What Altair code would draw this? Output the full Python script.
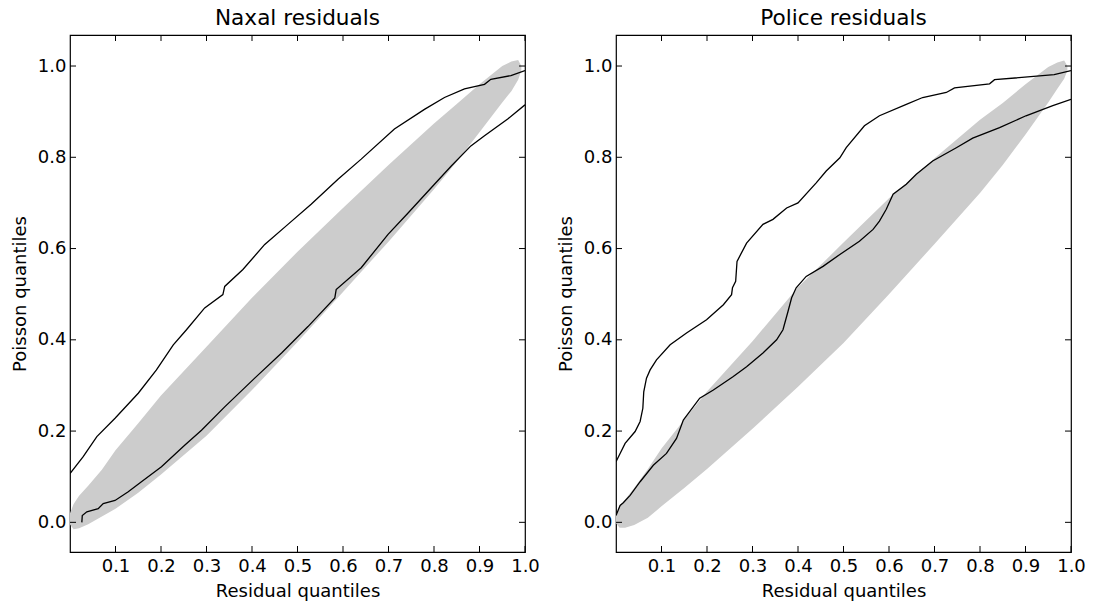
import altair as alt
import pandas as pd

# ---------------- data ----------------
x_ticks = [0.1, 0.2, 0.3, 0.4, 0.5, 0.6, 0.7, 0.8, 0.9, 1.0]
y_ticks = [0.0, 0.2, 0.4, 0.6, 0.8, 1.0]

# Naxal panel: simulation envelope (grey band)
naxal_band_x = [0.0, 0.008, 0.02, 0.04, 0.07, 0.1, 0.15, 0.2, 0.3, 0.4, 0.5, 0.6, 0.7, 0.8, 0.85, 0.9, 0.95, 0.97, 0.985, 0.992]
naxal_band_lo = [-0.005, -0.015, -0.013, -0.004, 0.013, 0.03, 0.065, 0.105, 0.19, 0.29, 0.395, 0.505, 0.615, 0.73, 0.79, 0.855, 0.92, 0.945, 0.97, 0.99]
naxal_band_hi = [0.02, 0.04, 0.058, 0.08, 0.115, 0.158, 0.217, 0.278, 0.385, 0.492, 0.593, 0.689, 0.783, 0.874, 0.917, 0.96, 1.0, 1.01, 1.013, 1.0]

naxal_upper_x = [0.0, 0.029, 0.059, 0.099, 0.150, 0.190, 0.227, 0.256, 0.296, 0.336, 0.340, 0.380, 0.428, 0.479, 0.530, 0.589, 0.640, 0.713, 0.779, 0.823, 0.867, 0.911, 0.925, 0.969, 1.0]
naxal_upper_y = [0.107, 0.144, 0.188, 0.228, 0.283, 0.334, 0.389, 0.422, 0.470, 0.499, 0.517, 0.554, 0.609, 0.653, 0.697, 0.752, 0.796, 0.862, 0.905, 0.931, 0.950, 0.960, 0.971, 0.979, 0.990]

naxal_lower_x = [0.026, 0.027, 0.037, 0.062, 0.073, 0.099, 0.128, 0.157, 0.201, 0.252, 0.289, 0.340, 0.406, 0.465, 0.523, 0.582, 0.585, 0.640, 0.699, 0.743, 0.801, 0.838, 0.881, 0.911, 0.962, 1.0]
naxal_lower_y = [0.0, 0.015, 0.023, 0.030, 0.041, 0.048, 0.067, 0.089, 0.122, 0.169, 0.202, 0.253, 0.316, 0.371, 0.429, 0.492, 0.510, 0.558, 0.631, 0.678, 0.741, 0.781, 0.825, 0.847, 0.884, 0.915]

# Police panel
police_band_x = [0.0, 0.008, 0.02, 0.04, 0.07, 0.1, 0.15, 0.2, 0.3, 0.4, 0.5, 0.6, 0.7, 0.8, 0.85, 0.9, 0.95, 0.97, 0.985, 0.992]
police_band_lo = [-0.002, -0.012, -0.012, -0.006, 0.01, 0.035, 0.075, 0.117, 0.205, 0.297, 0.393, 0.5, 0.61, 0.722, 0.783, 0.85, 0.92, 0.95, 0.972, 0.99]
police_band_hi = [0.015, 0.035, 0.05, 0.075, 0.117, 0.162, 0.225, 0.287, 0.397, 0.515, 0.613, 0.71, 0.798, 0.882, 0.919, 0.96, 0.998, 1.008, 1.012, 1.0]

police_upper_x = [0.0, 0.009, 0.020, 0.042, 0.053, 0.059, 0.061, 0.067, 0.075, 0.089, 0.119, 0.155, 0.199, 0.236, 0.254, 0.256, 0.263, 0.266, 0.287, 0.323, 0.345, 0.375, 0.400, 0.440, 0.462, 0.492, 0.506, 0.546, 0.579, 0.638, 0.674, 0.726, 0.744, 0.821, 0.832, 0.963, 1.0]
police_upper_y = [0.133, 0.151, 0.173, 0.199, 0.221, 0.250, 0.286, 0.316, 0.334, 0.356, 0.389, 0.415, 0.444, 0.477, 0.499, 0.514, 0.528, 0.572, 0.612, 0.653, 0.664, 0.689, 0.700, 0.744, 0.770, 0.799, 0.821, 0.869, 0.891, 0.916, 0.931, 0.942, 0.952, 0.961, 0.970, 0.981, 0.990]

police_lower_x = [0.0, 0.009, 0.016, 0.031, 0.053, 0.082, 0.111, 0.133, 0.148, 0.184, 0.214, 0.257, 0.287, 0.323, 0.353, 0.367, 0.378, 0.386, 0.396, 0.418, 0.455, 0.492, 0.535, 0.565, 0.579, 0.594, 0.609, 0.638, 0.660, 0.696, 0.748, 0.784, 0.843, 0.901, 0.960, 1.0]
police_lower_y = [0.015, 0.037, 0.043, 0.059, 0.089, 0.125, 0.151, 0.184, 0.224, 0.272, 0.290, 0.319, 0.341, 0.371, 0.400, 0.422, 0.462, 0.492, 0.514, 0.539, 0.561, 0.587, 0.616, 0.642, 0.660, 0.686, 0.719, 0.741, 0.763, 0.792, 0.821, 0.842, 0.865, 0.891, 0.913, 0.927]

# ---------------- styling ----------------
W, H = 455, 517
TICK = 6
FONT = "DejaVu Sans"

x_scale = alt.Scale(domain=[0, 1], nice=False, zero=False)
y_scale = alt.Scale(domain=[-0.065, 1.068], nice=False, zero=False)

x_axis = alt.Axis(values=x_ticks, format=".1f", title="Residual quantiles", grid=False,
                  domain=False, tickSize=0, labelPadding=5, titlePadding=7,
                  labelFlush=False, labelOverlap=False, labelBound=False)
y_axis = alt.Axis(values=y_ticks, format=".1f", title="Poisson quantiles", grid=False,
                  domain=False, tickSize=0, labelPadding=4, titlePadding=8,
                  labelOverlap=False, labelBound=False)


def lines_frame(series):
    rows = []
    for name, xs, ys in series:
        for i, (a, b) in enumerate(zip(xs, ys)):
            rows.append({"series": name, "i": i, "x": a, "y": b})
    return pd.DataFrame(rows)


def panel(title, bx, blo, bhi, series):
    band = pd.DataFrame({"x": bx, "lo": blo, "hi": bhi})
    lines = lines_frame(series)
    xt = pd.DataFrame({"x": x_ticks})
    yt = pd.DataFrame({"y": y_ticks})

    X = alt.X("x:Q", scale=x_scale, axis=x_axis)
    area = alt.Chart(band).mark_area(color="#cccccc", opacity=1, clip=True).encode(
        x=X,
        y=alt.Y("lo:Q", scale=y_scale, axis=y_axis),
        y2="hi:Q",
    )
    line = alt.Chart(lines).mark_line(color="black", strokeWidth=1.3, clip=True).encode(
        x=X,
        y=alt.Y("y:Q", scale=y_scale, axis=y_axis),
        detail="series:N",
        order="i:Q",
    )
    xb = alt.Chart(xt).mark_rule(color="black", strokeWidth=1).encode(
        x=X, y=alt.value(H), y2=alt.value(H - TICK))
    xtop = alt.Chart(xt).mark_rule(color="black", strokeWidth=1).encode(
        x=X, y=alt.value(0), y2=alt.value(TICK))
    yl = alt.Chart(yt).mark_rule(color="black", strokeWidth=1).encode(
        y=alt.Y("y:Q", scale=y_scale, axis=y_axis), x=alt.value(0), x2=alt.value(TICK))
    yr = alt.Chart(yt).mark_rule(color="black", strokeWidth=1).encode(
        y=alt.Y("y:Q", scale=y_scale, axis=y_axis), x=alt.value(W), x2=alt.value(W - TICK))

    return alt.layer(area, line, xb, xtop, yl, yr).properties(
        width=W, height=H,
        title=alt.TitleParams(title, fontSize=21.6, font=FONT, fontWeight="normal",
                              color="black", anchor="middle", offset=5),
    )


left = panel("Naxal residuals", naxal_band_x, naxal_band_lo, naxal_band_hi,
             [("upper", naxal_upper_x, naxal_upper_y), ("lower", naxal_lower_x, naxal_lower_y)])
right = panel("Police residuals", police_band_x, police_band_lo, police_band_hi,
              [("upper", police_upper_x, police_upper_y), ("lower", police_lower_x, police_lower_y)])

chart = alt.hconcat(left, right, spacing=91, bounds="flush").properties(
    padding={"left": 10, "top": 7, "right": 5, "bottom": 0},
    background="white",
).configure_view(
    stroke="black", strokeWidth=1.2
).configure_axis(
    labelFont=FONT, labelFontSize=18, labelColor="black",
    titleFont=FONT, titleFontSize=18, titleFontWeight="normal", titleColor="black",
)

chart.save("out.html", embed_options={"renderer": "svg", "actions": False})
